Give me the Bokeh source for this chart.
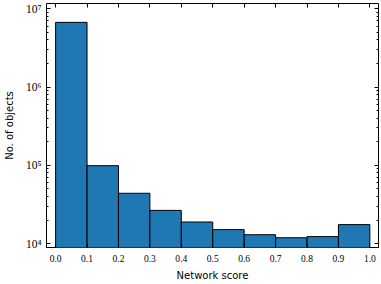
from bokeh.plotting import figure
from bokeh.models import Range1d, FixedTicker, LinearAxis, LogAxis
from bokeh.embed import file_html
from bokeh.resources import INLINE

# Histogram data (network score bins, object counts)
bin_edges = [0.0, 0.1, 0.2, 0.3, 0.4, 0.5, 0.6, 0.7, 0.8, 0.9, 1.0]
counts = [6.7e6, 9.9e4, 4.4e4, 2.66e4, 1.89e4, 1.51e4, 1.30e4, 1.19e4, 1.23e4, 1.75e4]
x_ticks = [0.0, 0.1, 0.2, 0.3, 0.4, 0.5, 0.6, 0.7, 0.8, 0.9, 1.0]
x_tick_labels = ["0.0", "0.1", "0.2", "0.3", "0.4", "0.5", "0.6", "0.7", "0.8", "0.9", "1.0"]
y_ticks = [1e4, 1e5, 1e6, 1e7]
y_tick_labels = ["10\u2074", "10\u2075", "10\u2076", "10\u2077"]
y_minor = [m * 10 ** e for e in range(3, 8) for m in range(2, 10)]

p = figure(width=381, height=284, output_backend="svg", toolbar_location=None,
           y_axis_type="log",
           x_range=Range1d(-0.029, 1.0275), y_range=Range1d(8.93e3, 1.167e7),
           min_border_left=44, min_border_right=3, min_border_top=3, min_border_bottom=37)
p.title.visible = False

lefts = bin_edges[:-1]
rights = bin_edges[1:]
p.quad(left=lefts, right=rights, top=counts, bottom=[1] * len(counts),
       fill_color="#1f77b4", line_color="black", line_width=1)

p.grid.visible = False
p.outline_line_color = "black"
p.outline_line_width = 1
p.background_fill_color = "white"
p.border_fill_color = "white"

tick_font = "Liberation Serif"
label_font = "DejaVu Sans"

xt = FixedTicker(ticks=x_ticks)
yt = FixedTicker(ticks=y_ticks, minor_ticks=y_minor)

def style(ax):
    ax.axis_line_color = None
    ax.major_tick_in = 4
    ax.major_tick_out = 0
    ax.minor_tick_in = 2
    ax.minor_tick_out = 0
    ax.major_tick_line_color = "black"
    ax.minor_tick_line_color = "black"
    ax.major_label_text_font = tick_font
    ax.major_label_text_font_size = "9.5px"
    ax.major_label_text_color = "black"
    ax.axis_label_text_font = label_font
    ax.axis_label_text_font_size = "10px"
    ax.axis_label_text_font_style = "normal"
    ax.axis_label_text_color = "black"

xa = p.xaxis[0]
xa.ticker = xt
xa.major_label_overrides = {v: s for v, s in zip(x_ticks, x_tick_labels)}
style(xa)
xa.minor_tick_line_color = None
xa.axis_label = "Network score"
xa.major_label_standoff = 7
xa.axis_label_standoff = 5

ya = p.yaxis[0]
ya.ticker = yt
ya.major_label_overrides = {v: s for v, s in zip(y_ticks, y_tick_labels)}
style(ya)
ya.major_label_text_font_size = "11.5px"
ya.axis_label = "No. of objects"
ya.major_label_standoff = 5
ya.axis_label_standoff = 8

top = LinearAxis(ticker=FixedTicker(ticks=x_ticks))
style(top)
top.major_label_text_font_size = "1px"
top.major_label_overrides = {v: "" for v in x_ticks}
top.minor_tick_line_color = None
top.major_label_standoff = 0
p.add_layout(top, "above")

right = LogAxis(ticker=FixedTicker(ticks=y_ticks, minor_ticks=y_minor))
style(right)
right.major_label_text_font_size = "1px"
right.major_label_overrides = {v: "" for v in y_ticks}
right.major_label_standoff = 0
p.add_layout(right, "right")

open("out.html", "w").write(file_html(p, INLINE))
